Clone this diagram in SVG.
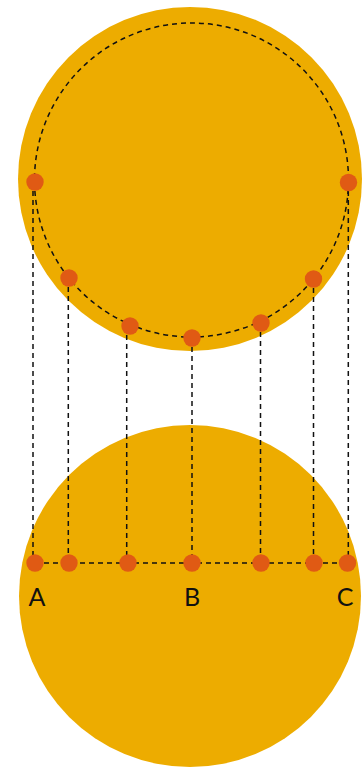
<svg xmlns="http://www.w3.org/2000/svg" width="364" height="767" viewBox="0 0 364 767">
<style>
.disk{fill:#EDAC00}
.dash{fill:none;stroke:#111;stroke-width:1.5;stroke-dasharray:5 4}
.pt{fill:#E05A14}
.lbl{font-family:Lato,"Noto Sans",sans-serif;font-size:25px;font-weight:400;fill:#111;text-anchor:middle}
</style>
<g id="top-disk">
<circle class="disk" cx="190" cy="179" r="172"/>
<circle class="dash" cx="191.5" cy="180" r="157"/>
</g>
<g id="bottom-disk">
<circle class="disk" cx="190" cy="596" r="171"/>
</g>
<g id="connectors">
<line class="dash" x1="33" y1="182" x2="33" y2="563"/>
<line class="dash" x1="68.3" y1="278" x2="68.3" y2="563"/>
<line class="dash" x1="126.7" y1="326" x2="126.7" y2="563"/>
<line class="dash" x1="192" y1="338" x2="192" y2="563"/>
<line class="dash" x1="260.5" y1="323" x2="260.5" y2="563"/>
<line class="dash" x1="313.5" y1="279" x2="313.5" y2="563"/>
<line class="dash" x1="348.3" y1="182" x2="348.3" y2="563"/>
<line class="dash" x1="35" y1="563" x2="348" y2="563"/>
</g>
<g id="top-points">
<circle class="pt" cx="35" cy="182" r="8.7"/>
<circle class="pt" cx="69" cy="278" r="8.7"/>
<circle class="pt" cx="130" cy="326" r="8.7"/>
<circle class="pt" cx="192" cy="338" r="8.7"/>
<circle class="pt" cx="261" cy="323" r="8.7"/>
<circle class="pt" cx="313.5" cy="279" r="8.7"/>
<circle class="pt" cx="348.5" cy="182.5" r="8.7"/>
</g>
<g id="bottom-points">
<circle class="pt" cx="35" cy="563" r="8.7"/>
<circle class="pt" cx="69" cy="563" r="8.7"/>
<circle class="pt" cx="128" cy="563" r="8.7"/>
<circle class="pt" cx="192" cy="563" r="8.7"/>
<circle class="pt" cx="261" cy="563" r="8.7"/>
<circle class="pt" cx="314" cy="563" r="8.7"/>
<circle class="pt" cx="347.5" cy="563" r="8.7"/>
</g>
<g id="label-A"><text class="lbl" x="37" y="606">A</text></g>
<g id="label-B"><text class="lbl" x="192" y="606">B</text></g>
<g id="label-C"><text class="lbl" x="345" y="606">C</text></g>
</svg>
